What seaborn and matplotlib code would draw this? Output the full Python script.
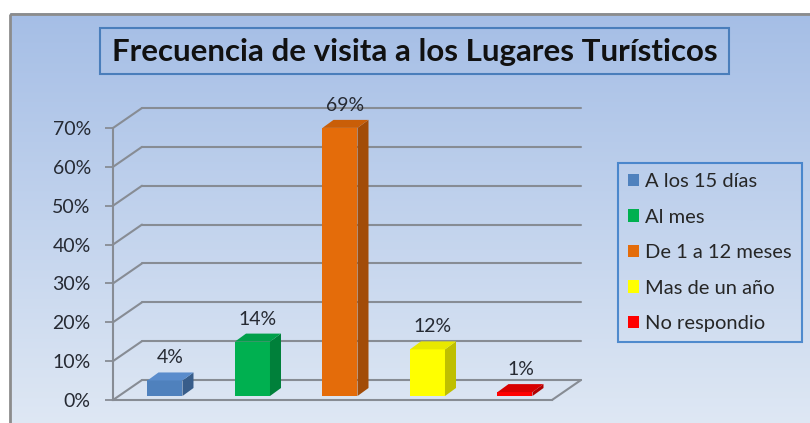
import numpy as np
import matplotlib
matplotlib.use("Agg")
import matplotlib.pyplot as plt
import matplotlib.transforms as mtransforms
from matplotlib.patches import Rectangle, Polygon, Patch
from matplotlib.lines import Line2D
import seaborn as sns

# ---- data ----
categories = ["A los 15 días", "Al mes", "De 1 a 12 meses", "Mas de un año", "No respondio"]
values = [0.04, 0.14, 0.69, 0.12, 0.01]
yticks = [0.0, 0.1, 0.2, 0.3, 0.4, 0.5, 0.6, 0.7]
title = "Frecuencia de visita a los Lugares Turísticos"

front_colors = ["#4f81bd", "#00b050", "#e46c0a", "#ffff00", "#ff0000"]
side_colors = ["#385d8a", "#00803a", "#a24c08", "#bfbf00", "#b00000"]
top_colors = ["#5a8ccc", "#00a04a", "#c95e08", "#e8e800", "#d80000"]

sns.set_style("white")
plt.rcParams["font.family"] = ["Lato", "DejaVu Sans"]

W, H = 810, 423
fig = plt.figure(figsize=(W / 100, H / 100), dpi=100)
fig.patch.set_facecolor("white")

def fx(x):
    return x / W

def fy(y):
    return (H - y) / H

# background gradient inside frame
bg = fig.add_axes([0, 0, 1, 1], zorder=0)
bg.set_xlim(0, W)
bg.set_ylim(H, 0)
bg.axis("off")
top_c = np.array(matplotlib.colors.to_rgb("#a5bee6"))
bot_c = np.array(matplotlib.colors.to_rgb("#dfe8f4"))
t = np.linspace(0, 1, 256)[:, None]
grad = (top_c[None, :] * (1 - t) + bot_c[None, :] * t)[:, None, :]
bg.imshow(grad, extent=[10, W + 5, H + 5, 14], aspect="auto", zorder=0)
bg.add_patch(Rectangle((10, 14), W, H, fill=False, edgecolor="#8c8c8c", lw=2, zorder=1))

# title box
bg.add_patch(Rectangle((100, 28), 629, 46, fill=False, edgecolor="#4a7ebb", lw=1.5, zorder=2))
bg.text(414.5, 52, title, ha="center", va="center", fontsize=22.5, fontweight="bold",
        color="#111111", zorder=3)

# main axes (front plane)
ax = fig.add_axes([fx(113), fy(400), fx(552) - fx(113), fy(128) - fy(400)], zorder=2)
ax.set_facecolor("none")
sns.barplot(x=categories, y=values, hue=categories, palette=front_colors, width=0.4,
            saturation=1, legend=False, ax=ax, zorder=3, linewidth=0, edgecolor="none")
ax.set_xlim(-0.537, 4.48)
ax.set_ylim(0, 0.70)
ax.set_yticks(yticks)
ax.set_yticklabels([f"{v:.0%}" for v in yticks], fontsize=14, color="#262a33")
ax.set_xticks([])
ax.set_xlabel("")
ax.set_ylabel("")
for s in ["top", "right"]:
    ax.spines[s].set_visible(False)
grid_c = "#878c94"
for s in ["left", "bottom"]:
    ax.spines[s].set_color(grid_c)
    ax.spines[s].set_linewidth(1.5)
ax.tick_params(axis="y", length=6, width=1.3, color=grid_c, pad=10, left=True)

# 3D back wall / floor
DX, DY = 29, 20   # depth of plot area in pixels
ident = mtransforms.IdentityTransform()
back = ax.transData + mtransforms.ScaledTranslation(DX / 100, DY / 100, fig.dpi_scale_trans)
x0, x1 = ax.get_xlim()
for v in yticks:
    ax.plot([x0, x1], [v, v], color=grid_c, lw=1.5, transform=back, clip_on=False, zorder=1)
    p = ax.transData.transform((x0, v))
    fig.add_artist(Line2D([p[0], p[0] + DX], [p[1], p[1] + DY], color=grid_c, lw=1.5,
                          transform=ident, zorder=2))
pr = ax.transData.transform((x1, 0))
fig.add_artist(Line2D([pr[0], pr[0] + DX], [pr[1], pr[1] + DY], color=grid_c, lw=1.5,
                      transform=ident, zorder=2))

# 3D bars
BX, BY = 5, 4       # bar placement inside depth
bdx, bdy = 11, 8    # bar depth
shift = ax.transData + mtransforms.ScaledTranslation(BX / 100, BY / 100, fig.dpi_scale_trans)
for i, patch in enumerate(ax.patches):
    patch.set_transform(shift)
    patch.set_clip_on(False)
    xl = patch.get_x()
    w = patch.get_width()
    h = patch.get_height()
    idx = int(round(xl + w / 2))
    (ax0, ay0) = ax.transData.transform((xl, 0)) + np.array([BX, BY])
    (ax1, ay1) = ax.transData.transform((xl + w, h)) + np.array([BX, BY])
    side = Polygon([[ax1, ay0], [ax1, ay1], [ax1 + bdx, ay1 + bdy], [ax1 + bdx, ay0 + bdy]],
                   closed=True, facecolor=side_colors[idx], edgecolor="none",
                   transform=ident, zorder=3)
    top = Polygon([[ax0, ay1], [ax1, ay1], [ax1 + bdx, ay1 + bdy], [ax0 + bdx, ay1 + bdy]],
                  closed=True, facecolor=top_colors[idx], edgecolor="none",
                  transform=ident, zorder=3)
    fig.add_artist(side)
    fig.add_artist(top)
    ax.annotate(f"{values[idx]:.0%}", xy=(xl + w / 2, h), xycoords="data",
                xytext=((BX + bdx / 2) * 0.72, (BY + bdy + 6) * 0.72), textcoords="offset points",
                ha="center", va="bottom", fontsize=14, color="#262a33", annotation_clip=False)

# legend
handles = [Patch(facecolor=c, edgecolor="none") for c in front_colors]
leg = fig.legend(handles, categories, loc="upper left",
                 bbox_to_anchor=(fx(618), fy(163)), frameon=True, fancybox=False,
                 fontsize=14.5, handlelength=0.55, handleheight=0.55, handletextpad=0.3,
                 labelspacing=0.92, borderpad=0.5, borderaxespad=0)
leg.get_frame().set_edgecolor("#2e75c5")
leg.get_frame().set_linewidth(1.5)
leg.get_frame().set_facecolor("none")
leg.set_zorder(5)

fig.savefig("out.png", dpi=100)
